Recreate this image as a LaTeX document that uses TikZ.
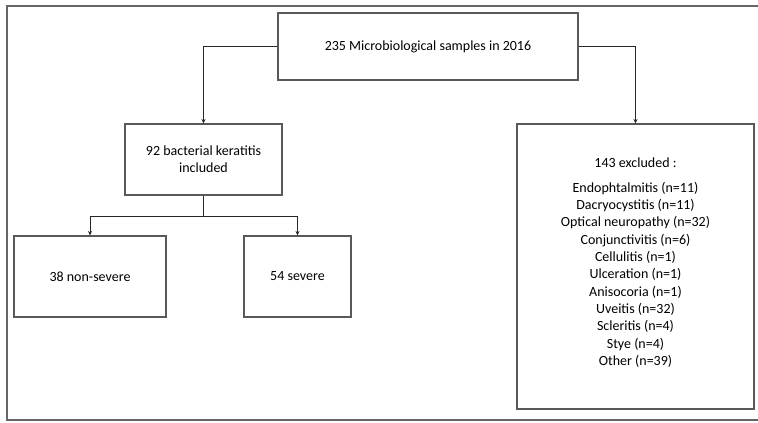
\documentclass[tikz,border=0pt]{standalone}
\usepackage{fontspec}
\setmainfont{Carlito}
\usetikzlibrary{arrows.meta,positioning}

\begin{document}
\begin{tikzpicture}[x=1pt,y=-1pt,
    box/.style={rectangle,draw=black!65,line width=1.1pt,align=center,inner sep=0pt,
                font=\fontsize{14}{17.3}\selectfont},
    flow/.style={-{Stealth[length=4.5pt,width=4pt]},line width=0.8pt,black!85}]
  \useasboundingbox (0,0) rectangle (758,423);
  % outer frame (right side falls outside the picture)
  \draw[black!60,line width=1.5pt] (758,6) -| (7,420) -- (758,420);

  % main modules
  \node[box,minimum width=300pt,minimum height=67pt] (total) at (428,46.5) {235 Microbiological samples in 2016};
  \node[box,minimum width=157pt,minimum height=71pt] (included) at (203.5,159.5) {92 bacterial keratitis\\included};
  \node[box,minimum width=237pt,minimum height=285pt] (excluded) at (635.5,266.5) {143 excluded :\\[8pt]
    Endophtalmitis (n=11)\\Dacryocystitis (n=11)\\Optical neuropathy (n=32)\\Conjunctivitis (n=6)\\
    Cellulitis (n=1)\\Ulceration (n=1)\\Anisocoria (n=1)\\Uveitis (n=32)\\Scleritis (n=4)\\
    Stye (n=4)\\Other (n=39)\\[-7pt]};
  \node[box,minimum width=152pt,minimum height=81pt] (nonsevere) at (90,276.5) {38 non-severe};
  \node[box,minimum width=107pt,minimum height=81pt] (severe) at (297.5,276.5) {54 severe};

  % split into included / excluded
  \draw[flow] (total.west) -| (included.north);
  \draw[flow] (total.east) -| (excluded.north);

  % severity
  \draw[line width=0.8pt,black!85] (included.south) -- ++(0,21) coordinate (split);
  \draw[flow] (split) -| (nonsevere.north);
  \draw[flow] (split) -| (severe.north);
\end{tikzpicture}
\end{document}
